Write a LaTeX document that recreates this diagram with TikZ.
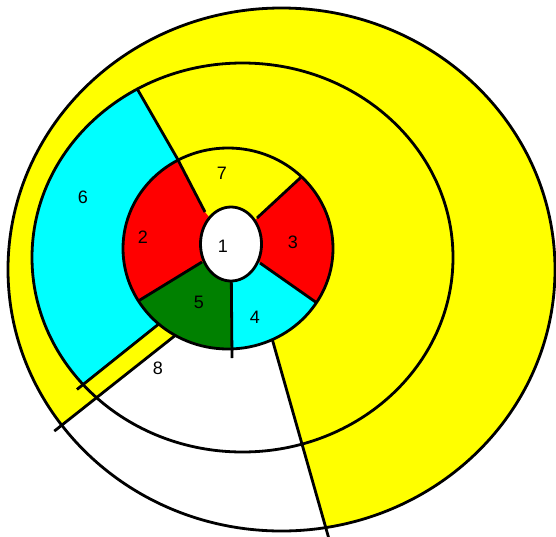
\documentclass[tikz,border=0pt]{standalone}
\usepackage{fontspec}
\setmainfont{Liberation Sans}
\usetikzlibrary{calc}
\definecolor{ylw}{RGB}{255,255,0}
\definecolor{cyn}{RGB}{0,255,255}
\definecolor{rd}{RGB}{255,0,0}
\definecolor{grn}{RGB}{0,128,0}
\begin{document}
\begin{tikzpicture}[x=1pt,y=-1pt,line join=round,
  edge/.style={draw=black,line width=2.8pt},
  lbl/.style={font=\fontsize{18}{18}\selectfont,inner sep=0pt}]
\useasboundingbox (0,0) rectangle (556,536);
\fill[white] (0,0) rectangle (556,536);
% centres
\coordinate (Oout) at (281.5,269.5);
\coordinate (Omid) at (242.5,257.5);
\coordinate (Oring) at (228,248.5);
\coordinate (O) at (231,244);
% ring divider points (hole side / ring side)
\coordinate (hA) at (205,212); \coordinate (rA) at (177,158);
\coordinate (hB) at (257,218); \coordinate (rB) at (298,180);
\coordinate (hC) at (260,263); \coordinate (rC) at (317,303);
\coordinate (hD) at (232,281); \coordinate (rD) at (232,349);
\coordinate (hE) at (202,262); \coordinate (rE) at (135,303);
% outer lines
\coordinate (mA) at (139,92);
\coordinate (c1) at (155,327); \coordinate (c2) at (85,383);
\coordinate (w1) at (172,338); \coordinate (w2) at (62,425);
\coordinate (r1) at (273,342); \coordinate (r2) at (327,532);
% yellow disc
\fill[ylw] (Oout) ellipse [x radius=273.5pt,y radius=261.5pt];
% white sector 8
\begin{scope}
  \clip (Oout) ellipse [x radius=273.5pt,y radius=261.5pt];
  \fill[white] ($(w1)!-0.3!(w2)$) -- ($(w1)!1.3!(w2)$) -- (29,620) -- (340,620)
     -- ($(r1)!1.2!(r2)$) -- ($(r1)!-0.15!(r2)$) -- cycle;
\end{scope}
% cyan sector 6
\begin{scope}
  \clip (Omid) ellipse [x radius=210.5pt,y radius=194.5pt];
  \fill[cyn] ($(rA)!-0.5!(mA)$) -- ($(rA)!1.4!(mA)$) -- (0,0) -- (0,420)
     -- ($(c1)!1.4!(c2)$) -- ($(c1)!-0.4!(c2)$) -- cycle;
  \draw[edge] ($(rA)!-0.5!(mA)$) -- ($(rA)!1.4!(mA)$);
\end{scope}
% outlines
\draw[edge] (Oout) ellipse [x radius=273.5pt,y radius=261.5pt];
\draw[edge] (Omid) ellipse [x radius=210.5pt,y radius=194.5pt];
\draw[edge] ($(c1)!-0.4!(c2)$) -- ($(c1)!1.115!(c2)$);
\draw[edge] ($(w1)!-0.3!(w2)$) -- ($(w1)!1.07!(w2)$);
\draw[edge] ($(r1)!-0.15!(r2)$) -- ($(r1)!1.03!(r2)$);
% inner ring sectors
\begin{scope}
  \clip (Oring) ellipse [x radius=105pt,y radius=100.5pt];
  \fill[ylw] (hA) -- ($(hA)!3!(rA)$) -- ($(hB)!3!(rB)$) -- (hB) -- (O) -- cycle;
  \fill[rd]  (hB) -- ($(hB)!3!(rB)$) -- ($(hC)!3!(rC)$) -- (hC) -- (O) -- cycle;
  \fill[cyn] (hC) -- ($(hC)!3!(rC)$) -- ($(hD)!3!(rD)$) -- (hD) -- (O) -- cycle;
  \fill[grn] (hD) -- ($(hD)!3!(rD)$) -- ($(hE)!3!(rE)$) -- (hE) -- (O) -- cycle;
  \fill[rd]  (hE) -- ($(hE)!3!(rE)$) -- ($(hA)!3!(rA)$) -- (hA) -- (O) -- cycle;
  \draw[edge] (hA) -- ($(hA)!1.3!(rA)$);
  \draw[edge] (hB) -- ($(hB)!1.3!(rB)$);
  \draw[edge] (hC) -- ($(hC)!1.3!(rC)$);
  \draw[edge] (hE) -- ($(hE)!1.3!(rE)$);
\end{scope}
\draw[edge] (Oring) ellipse [x radius=105pt,y radius=100.5pt];
\draw[edge] (O) -- (232,358);
% hole
\filldraw[edge,fill=white] (O) ellipse [x radius=30.5pt,y radius=37pt];
% labels
\node[lbl] (n1) at (223,246) {1};
\node[lbl] (n2) at (143,237) {2};
\node[lbl] (n3) at (293,242) {3};
\node[lbl] (n4) at (255,317) {4};
\node[lbl] (n5) at (199,302) {5};
\node[lbl] (n6) at (83,197) {6};
\node[lbl] (n7) at (222,173) {7};
\node[lbl] (n8) at (158,368) {8};
\end{tikzpicture}
\end{document}
